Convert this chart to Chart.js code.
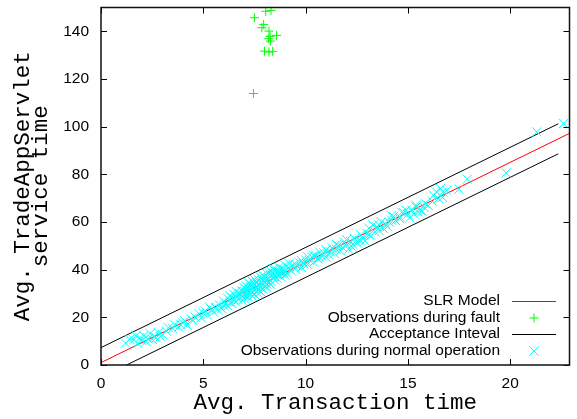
<!DOCTYPE html>
<html>
<head>
<meta charset="utf-8">
<script src="https://cdn.jsdelivr.net/npm/chart.js@4"></script>
<style>
  html, body { margin: 0; padding: 0; background: #fff; }
</style>
</head>
<body>
<canvas id="chart" width="577" height="419"></canvas>
<script>
// fitted model and acceptance interval (endpoints)
const slrLine = [[0, 1.0], [22.9, 97.2]];
const upperBand = [[0, 7.3], [22.35, 101.2]];
const lowerBand = [[1.25, 0], [22.35, 88.6]];

// observations while the fault was injected
const faultObs = [
  [8.05, 148.4], [8.31, 148.8], [7.50, 145.7], [7.86, 141.5], [7.95, 142.9],
  [8.21, 140.1], [8.58, 138.3], [8.26, 137.9], [8.18, 136.9], [8.28, 135.9],
  [7.99, 131.7], [8.21, 131.3], [8.39, 131.6], [7.45, 113.9]
];

// observations during normal operation
const normalObs = [
  [1.2, 9.2], [1.4, 10.8], [1.6, 10.5], [1.7, 12.2], [1.8, 9.0], [1.9, 11.5], [2.0, 10.2], [2.1, 12.3],
  [2.2, 9.8], [2.3, 11.0], [2.4, 13.2], [2.5, 10.8], [2.6, 12.0], [2.7, 11.4], [2.8, 13.6], [2.9, 11.9],
  [3.0, 12.8], [3.2, 14.2], [3.3, 15.6],
  [3.5, 15.4], [3.6, 16.8], [3.8, 15.9], [3.9, 17.0], [4.0, 17.6], [4.1, 18.5], [4.2, 16.8], [4.4, 19.4],
  [4.5, 18.6], [4.6, 20.1], [4.8, 21.5], [4.9, 19.8], [5.0, 21.8], [5.1, 22.6], [5.2, 21.0], [5.3, 24.3],
  [5.4, 23.4], [5.5, 22.2], [5.6, 24.1], [5.7, 23.1],
  [5.8, 25.2], [5.9, 23.6], [6.0, 26.8], [6.0, 25.0], [6.1, 25.5], [6.2, 27.9], [6.2, 24.8], [6.3, 26.2],
  [6.3, 29.1], [6.4, 28.4], [6.4, 25.9], [6.5, 27.3], [6.5, 29.6], [6.6, 26.5], [6.6, 28.8], [6.6, 30.9],
  [6.7, 30.1], [6.7, 27.5],
  [6.8, 28.2], [6.8, 29.9], [6.9, 27.1], [6.9, 31.0], [6.9, 29.0], [7.0, 29.3], [7.0, 30.8], [7.0, 27.8],
  [7.0, 32.4], [7.1, 31.9], [7.1, 29.0], [7.1, 33.2], [7.1, 30.5], [7.2, 30.4], [7.2, 28.6], [7.2, 32.3],
  [7.2, 34.6], [7.3, 31.1], [7.3, 29.7], [7.3, 34.0], [7.3, 32.8], [7.4, 32.6], [7.4, 30.2], [7.4, 35.1],
  [7.4, 28.9], [7.5, 31.8], [7.5, 33.7], [7.5, 29.6], [7.5, 35.9], [7.6, 34.6], [7.6, 32.1], [7.6, 30.8],
  [7.6, 33.0], [7.7, 33.4], [7.7, 35.8], [7.7, 31.5], [7.7, 29.9], [7.8, 34.2], [7.8, 32.7], [7.8, 36.9],
  [7.8, 30.8], [7.9, 33.9], [7.9, 35.4], [7.9, 31.9], [7.9, 37.6], [8.0, 34.8], [8.0, 37.2], [8.0, 33.1],
  [8.0, 35.9], [8.1, 35.9], [8.1, 34.0], [8.1, 38.4], [8.1, 32.6], [8.2, 36.3], [8.2, 34.7], [8.2, 38.9],
  [8.3, 37.5], [8.3, 35.2], [8.3, 39.3], [8.3, 33.8], [8.4, 36.8], [8.4, 38.6], [8.4, 40.3], [8.5, 37.1],
  [8.5, 35.6], [8.5, 40.2], [8.6, 38.0], [8.6, 36.4], [8.6, 39.5], [8.7, 39.2], [8.7, 41.0], [8.7, 37.6],
  [8.8, 38.6], [8.8, 37.0], [8.8, 40.6], [8.9, 40.1], [8.9, 38.9], [9.0, 39.6], [9.0, 41.8], [9.0, 37.8],
  [9.1, 38.2], [9.2, 40.7], [9.2, 42.6], [9.3, 39.5], [9.4, 42.0], [9.5, 40.3], [9.5, 42.2], [9.6, 41.5],
  [9.7, 43.1], [9.8, 40.9], [9.8, 43.8], [9.9, 42.6], [10.0, 44.0], [10.1, 42.2], [10.1, 45.4], [10.2, 43.8],
  [10.3, 45.3], [10.4, 43.1], [10.4, 45.8], [10.5, 46.0], [10.6, 44.5], [10.7, 47.2], [10.7, 45.1],
  [10.8, 45.6], [10.9, 46.9], [11.0, 48.3], [11.0, 45.2], [11.1, 46.4], [11.2, 47.5], [11.3, 49.1],
  [11.4, 46.8], [11.5, 48.6], [11.5, 50.6],
  [11.6, 50.1], [11.7, 47.9], [11.8, 49.4], [11.9, 51.6], [12.0, 50.3], [12.0, 52.6], [12.1, 48.6],
  [12.2, 51.8], [12.3, 50.7], [12.3, 49.2], [12.4, 53.0], [12.5, 51.2], [12.6, 52.4], [12.7, 54.6],
  [12.7, 52.2], [12.8, 53.1], [12.9, 51.9], [13.0, 55.2], [13.1, 57.4], [13.1, 54.6], [13.2, 54.3],
  [13.3, 58.7], [13.4, 55.8], [13.5, 57.9], [13.6, 56.4], [13.6, 58.6], [13.7, 60.0], [13.8, 57.3],
  [13.9, 59.2], [14.0, 58.1],
  [14.1, 59.9], [14.2, 60.8], [14.2, 62.6], [14.3, 62.3], [14.4, 60.6], [14.6, 62.1], [14.6, 61.4],
  [14.7, 64.0], [14.8, 63.9], [14.9, 65.0], [15.0, 63.3], [15.1, 61.8], [15.2, 64.9], [15.3, 63.4],
  [15.4, 66.3], [15.4, 67.0], [15.5, 64.3], [15.6, 65.0], [15.7, 64.6], [15.8, 66.1], [15.85, 67.8],
  [16.0, 66.9], [16.2, 68.6], [16.25, 71.2], [16.4, 72.6], [16.5, 69.9], [16.6, 74.0], [16.7, 70.3],
  [16.7, 72.6], [16.9, 73.3], [17.5, 73.8], [17.9, 78.0],
  [19.8, 80.6], [21.3, 97.8], [22.6, 101.3]
];

const RED = '#ff0000';
const GREEN = '#00ff00';
const CYAN = '#00ffff';
const BLACK = '#000000';

// key entries, top to bottom
const keyEntries = [
  { label: 'SLR Model', color: RED, mark: 'line' },
  { label: 'Observations during fault', color: GREEN, mark: 'cross', radius: 4.5 },
  { label: 'Acceptance Inteval', color: BLACK, mark: 'line' },
  { label: 'Observations during normal operation', color: CYAN, mark: 'crossRot', radius: 6.5 }
];

// gnuplot-style frame: box border with inward ticks on all four sides
const framePlugin = {
  id: 'frame',
  afterDatasetsDraw(chart) {
    const { ctx, chartArea: a, scales: { x, y } } = chart;
    const len = 6;
    ctx.save();
    ctx.strokeStyle = '#000';
    ctx.lineWidth = 1;
    ctx.beginPath();
    x.ticks.forEach(t => {
      const px = Math.round(x.getPixelForValue(t.value)) + 0.5;
      ctx.moveTo(px, a.bottom); ctx.lineTo(px, a.bottom - len);
      ctx.moveTo(px, a.top); ctx.lineTo(px, a.top + len);
    });
    y.ticks.forEach(t => {
      const py = Math.round(y.getPixelForValue(t.value)) + 0.5;
      ctx.moveTo(a.left, py); ctx.lineTo(a.left + len, py);
      ctx.moveTo(a.right, py); ctx.lineTo(a.right - len, py);
    });
    ctx.stroke();
    ctx.lineWidth = 1.5;
    ctx.strokeStyle = '#111';
    ctx.strokeRect(a.left, a.top, a.right - a.left, a.bottom - a.top);
    ctx.restore();
  }
};

// key in the lower right corner: text right-aligned, sample to its right
const keyPlugin = {
  id: 'key',
  afterDraw(chart) {
    const { ctx } = chart;
    const textRight = 500, sx0 = 512, sx1 = 556, top = 301, step = 16.7;
    ctx.save();
    ctx.font = '15.5px "Liberation Sans", Arial, sans-serif';
    ctx.textAlign = 'right';
    ctx.textBaseline = 'middle';
    keyEntries.forEach((e, i) => {
      const yy = Math.round(top + i * step);
      ctx.fillStyle = '#000';
      ctx.fillText(e.label, textRight, yy);
      ctx.strokeStyle = e.color;
      ctx.fillStyle = e.color;
      ctx.lineWidth = 1;
      if (e.mark === 'line') {
        ctx.beginPath();
        ctx.moveTo(sx0, yy + 0.5);
        ctx.lineTo(sx1, yy + 0.5);
        ctx.stroke();
      } else {
        Chart.helpers.drawPoint(ctx, {
          pointStyle: e.mark, radius: e.radius, borderWidth: 1, rotation: 0
        }, (sx0 + sx1) / 2, yy);
      }
    });
    ctx.restore();
  }
};

const ctx = document.getElementById('chart');
new Chart(ctx, {
  type: 'scatter',
  data: {
    datasets: [
      {
        label: 'Observations during normal operation',
        data: normalObs,
        pointStyle: 'crossRot',
        pointRadius: 6.5,
        pointBorderWidth: 1,
        borderColor: CYAN,
        backgroundColor: CYAN,
        showLine: false,
        order: 0
      },
      {
        label: 'Acceptance Inteval',
        data: upperBand,
        showLine: true,
        borderColor: BLACK,
        borderWidth: 1,
        pointRadius: 0,
        order: 1
      },
      {
        label: 'Acceptance Inteval (lower)',
        data: lowerBand,
        showLine: true,
        borderColor: BLACK,
        borderWidth: 1,
        pointRadius: 0,
        order: 1
      },
      {
        label: 'Observations during fault',
        data: faultObs,
        pointStyle: 'cross',
        pointRadius: 4.5,
        pointBorderWidth: 1,
        borderColor: GREEN,
        backgroundColor: GREEN,
        showLine: false,
        order: 2
      },
      {
        label: 'SLR Model',
        data: slrLine,
        showLine: true,
        borderColor: RED,
        borderWidth: 1,
        pointRadius: 0,
        order: 3
      }
    ]
  },
  options: {
    responsive: false,
    animation: false,
    events: [],
    layout: { padding: { top: 7, right: 3, left: 0, bottom: 0 } },
    plugins: {
      legend: { display: false },
      tooltip: { enabled: false }
    },
    scales: {
      x: {
        type: 'linear',
        min: 0,
        max: 22.9,
        grid: { display: false, drawTicks: false },
        border: { display: false },
        ticks: {
          stepSize: 5,
          includeBounds: false,
          padding: 9,
          color: '#000',
          font: { family: '"Liberation Sans", Arial, sans-serif', size: 15.5 }
        },
        title: {
          display: true,
          text: 'Avg. Transaction time',
          color: '#000',
          padding: { top: 0, bottom: 5 },
          font: { family: '"Liberation Mono", "Courier New", monospace', size: 22.5, lineHeight: 1 }
        },
        afterFit(scale) {
          scale.height = 54;
          scale.paddingLeft = 0;
          scale.paddingRight = 0;
        }
      },
      y: {
        type: 'linear',
        min: 0,
        max: 150,
        grid: { display: false, drawTicks: false },
        border: { display: false },
        ticks: {
          stepSize: 20,
          includeBounds: false,
          padding: 12,
          color: '#000',
          font: { family: '"Liberation Sans", Arial, sans-serif', size: 15.5 }
        },
        title: {
          display: true,
          text: ['Avg. TradeAppServlet', 'service time'],
          color: '#000',
          padding: { top: 14, bottom: 0 },
          font: { family: '"Liberation Mono", "Courier New", monospace', size: 22.5, lineHeight: 0.8 }
        },
        afterFit(scale) {
          scale.width = 101;
          scale.paddingTop = 0;
          scale.paddingBottom = 0;
        }
      }
    }
  },
  plugins: [framePlugin, keyPlugin]
});
</script>
</body>
</html>
